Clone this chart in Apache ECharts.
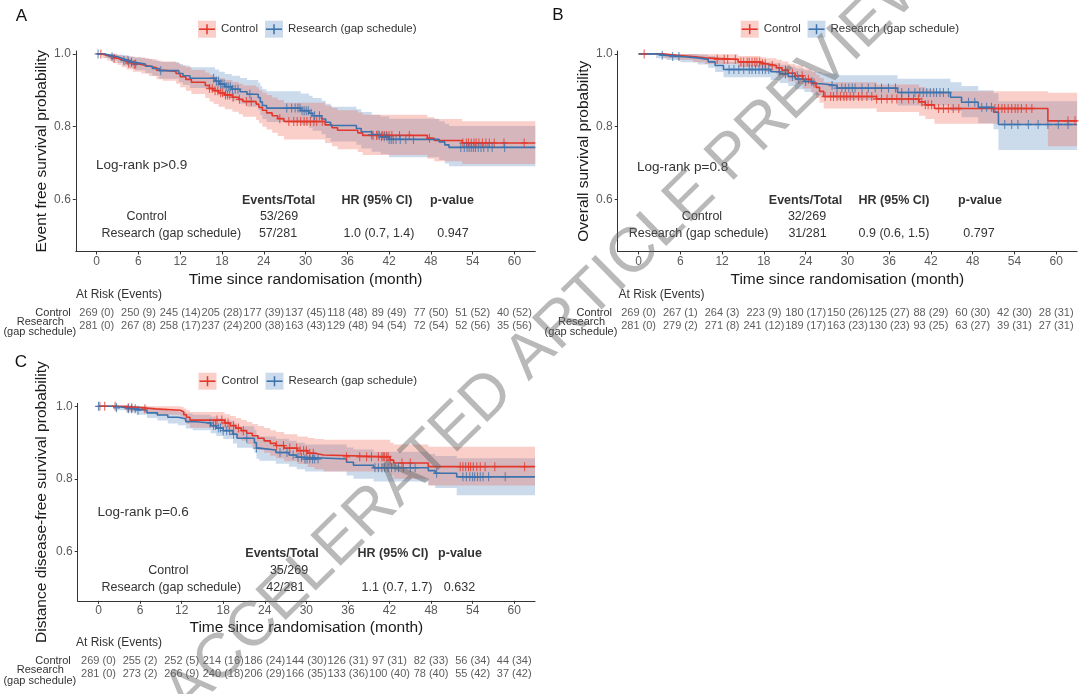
<!DOCTYPE html>
<html><head><meta charset="utf-8">
<script src="https://cdn.jsdelivr.net/npm/echarts@6/dist/echarts.min.js"></script>
<style>html,body{margin:0;padding:0;background:#fff}#c{width:1080px;height:694px}</style>
</head><body><div id="c"></div>
<script>
// ---------- tick labels ----------
const monthTicks = [0,6,12,18,24,30,36,42,48,54,60];
const probTicks = [0.6,0.8,1.0];

// ---------- Panel A: event free survival ----------
const efsCtrlT  = [0,0.8,1.5,2.3,3.0,3.6,4.3,5.2,6.4,7.5,8.6,9.5,11.4,12.0,12.8,13.6,15.6,16.2,16.8,17.5,18.4,19.5,20.4,21.0,22.9,23.3,23.8,24.4,25.2,26.0,26.9,32.8,33.8,34.6,37.5,38.2,47.5,48.5,52.5,63];
const efsCtrlS  = [1,.996,.992,.988,.984,.979,.975,.971,.967,.962,.955,.952,.946,.937,.930,.922,.913,.905,.899,.893,.887,.881,.875,.869,.862,.853,.845,.838,.830,.822,.814,.805,.797,.790,.783,.776,.768,.762,.755,.755];
const efsCtrlLo = [1,.989,.982,.975,.970,.963,.957,.951,.946,.939,.930,.926,.918,.908,.899,.890,.879,.869,.862,.855,.848,.841,.834,.827,.818,.809,.800,.792,.783,.774,.765,.755,.746,.738,.730,.722,.712,.705,.697,.697];
const efsCtrlHi = [1,1,1,.999,.997,.995,.993,.991,.989,.986,.981,.979,.975,.968,.963,.956,.949,.943,.938,.933,.928,.923,.918,.913,.908,.900,.893,.887,.880,.873,.866,.858,.851,.845,.839,.833,.826,.821,.815,.815];
const efsCtrlCens = [0.6,2.5,4.6,5.4,16.2,16.6,17.0,17.4,17.8,18.1,18.5,18.8,19.1,19.6,20.5,21.5,22.2,26.3,27.6,28.3,28.8,29.3,29.8,30.2,30.7,31.2,31.6,32.4,39.7,40.2,40.6,41.0,41.3,41.6,42.0,42.4,43.5,44.9,47.8,52.6,53.1,53.4,53.8,54.2,54.5,54.9,55.4,55.9,56.4,57.1,58.5,61.4];

const efsResT  = [0,1.2,2.0,3.0,3.8,4.6,5.5,7.0,8.0,9.0,11.8,12.4,13.4,17.0,17.6,18.4,19.4,20.6,21.6,23.2,23.5,23.8,24.4,29.3,30.5,31.0,32.3,32.9,33.6,37.3,38.0,39.5,40.8,42.0,49.2,50.0,50.6,63];
const efsResS  = [1,.996,.992,.987,.982,.977,.972,.966,.960,.954,.946,.940,.933,.925,.917,.910,.903,.896,.889,.880,.868,.858,.851,.844,.837,.830,.821,.812,.803,.795,.786,.778,.772,.765,.758,.750,.743,.743];
const efsResLo = [1,.989,.982,.975,.968,.961,.955,.947,.940,.932,.922,.915,.906,.896,.887,.879,.871,.863,.855,.845,.832,.821,.813,.805,.797,.789,.779,.769,.759,.750,.740,.731,.724,.716,.708,.699,.691,.691];
const efsResHi = [1,1,1,.998,.996,.993,.990,.986,.982,.978,.972,.968,.963,.957,.951,.945,.940,.934,.928,.921,.911,.903,.897,.891,.885,.879,.871,.863,.855,.848,.840,.833,.828,.822,.815,.808,.802,.802];
const efsResCens = [0.2,2.2,3.9,4.5,5.0,5.6,9.2,16.8,17.2,17.5,17.8,18.0,18.3,18.6,18.9,19.2,19.5,19.9,20.3,22.0,27.3,28.0,28.5,28.9,29.2,29.5,29.8,30.1,30.4,30.8,31.3,32.0,39.5,40.4,40.9,41.3,41.7,42.0,42.3,42.6,43.0,43.6,44.4,45.5,52.3,52.8,53.2,53.5,53.8,54.1,54.4,54.8,55.2,55.6,56.2,56.8,58.6];

const efsRiskCtrlN = [269,250,245,205,177,137,118,89,77,51,40];
const efsRiskCtrlE = [0,9,14,28,39,45,48,49,50,52,52];
const efsRiskResN  = [281,267,258,237,200,163,129,94,72,52,35];
const efsRiskResE  = [0,8,17,24,38,43,48,54,54,56,56];

// ---------- Panel B: overall survival ----------
const osCtrlT  = [0,3.5,5.5,7.8,9.5,14.3,17.5,18.3,19.8,20.6,21.5,22.5,23.6,24.8,25.5,26.0,26.6,34.2,40.3,41.2,42.5,58.8,63];
const osCtrlS  = [1,.996,.993,.989,.985,.978,.973,.968,.962,.955,.947,.940,.930,.920,.908,.897,.883,.876,.868,.860,.850,.816,.816];
const osCtrlLo = [1,.988,.983,.977,.972,.963,.956,.950,.943,.935,.925,.917,.905,.893,.879,.866,.850,.840,.830,.821,.808,.746,.746];
const osCtrlHi = [1,1,1,1,.999,.994,.991,.988,.984,.979,.973,.968,.960,.952,.943,.934,.922,.916,.909,.903,.897,.893,.893];
const osCtrlCens = [0.8,11.3,12.3,12.8,13.9,14.7,15.1,15.6,15.9,16.3,16.7,17.0,17.4,17.8,18.2,19.2,20.2,21.1,22.1,22.8,23.5,24.4,25.2,26.8,27.6,28.0,28.5,29.0,29.5,29.9,30.4,30.9,31.6,32.1,32.8,33.5,34.2,34.9,35.7,36.4,37.1,37.8,38.8,39.5,40.2,40.7,41.2,41.6,42.1,43.1,43.8,44.5,45.2,46.0,51.2,51.7,52.2,52.6,53.1,53.6,54.1,54.5,55.0,55.7,56.5,61.7,62.7];

const osResT  = [0,2.5,4.0,6.0,8.5,10.0,11.0,12.2,19.0,20.3,21.5,22.5,23.8,25.0,26.3,28.5,37.2,44.8,46.4,48.8,51.0,51.7,63];
const osResS  = [1,.996,.993,.989,.985,.978,.968,.957,.951,.945,.938,.931,.924,.918,.913,.906,.894,.881,.867,.853,.840,.806,.806];
const osResLo = [1,.988,.983,.977,.971,.962,.950,.936,.928,.920,.912,.903,.895,.887,.881,.873,.858,.843,.826,.809,.793,.736,.736];
const osResHi = [1,1,1,1,.998,.994,.987,.978,.974,.970,.965,.960,.955,.950,.946,.941,.932,.922,.912,.900,.892,.870,.870];
const osResCens = [3.4,4.9,5.8,13.0,13.7,14.4,15.1,15.9,16.3,16.8,17.3,17.8,18.2,18.7,20.2,21.1,22.1,23.0,24.0,24.9,27.8,28.5,29.2,29.7,30.2,30.7,31.1,32.1,33.0,34.0,34.9,35.9,36.9,37.8,38.8,39.7,40.4,40.9,41.4,41.9,42.4,42.8,43.3,43.8,44.5,47.4,48.3,49.3,50.0,50.7,52.6,53.6,54.5,56.0,57.4,58.8,60.3,61.7];

const osRiskCtrlN = [269,267,264,223,180,150,125,88,60,42,28];
const osRiskCtrlE = [0,1,3,9,17,26,27,29,30,30,31];
const osRiskResN  = [281,279,271,241,189,163,130,93,63,39,27];
const osRiskResE  = [0,2,8,12,17,23,23,25,27,31,31];

// ---------- Panel C: distance disease-free survival ----------
const ddfsCtrlT  = [0,4.0,6.5,8.2,11.8,12.3,12.7,13.2,18.2,19.0,19.8,20.6,21.4,22.2,23.0,23.9,24.8,25.6,26.8,28.7,30.2,31.2,32.5,42.1,42.6,47.6,63];
const ddfsCtrlS  = [1,.996,.993,.989,.985,.977,.970,.962,.954,.947,.940,.933,.926,.919,.912,.905,.898,.892,.885,.878,.871,.866,.861,.852,.844,.834,.834];
const ddfsCtrlLo = [1,.988,.983,.977,.971,.960,.951,.941,.931,.922,.913,.905,.896,.888,.880,.872,.864,.857,.849,.841,.833,.827,.821,.810,.801,.782,.782];
const ddfsCtrlHi = [1,1,1,1,.999,.994,.989,.984,.978,.973,.968,.962,.957,.951,.946,.940,.934,.929,.923,.917,.913,.910,.908,.900,.895,.889,.889];
const ddfsCtrlCens = [0.2,0.9,2.4,4.3,4.8,6.7,17.1,17.8,18.3,18.7,19.5,20.2,20.9,25.7,26.7,27.6,28.6,29.1,29.6,30.0,30.5,31.0,35.8,37.7,38.7,39.4,40.4,40.9,41.1,41.3,41.6,41.8,42.1,43.8,45.0,52.2,52.6,53.0,53.4,53.7,54.1,54.6,55.1,55.8,57.2,61.5];

const ddfsResT  = [0,2.5,4.0,5.5,7.0,8.5,10.0,11.5,12.6,13.6,16.2,17.0,18.0,19.4,20.0,22.5,22.8,23.2,25.6,27.5,28.6,29.8,35.8,36.8,39.7,47.6,48.6,51.7,63];
const ddfsResS  = [1,.996,.993,.989,.982,.976,.970,.966,.958,.954,.947,.940,.933,.923,.912,.900,.885,.880,.873,.866,.860,.855,.846,.838,.831,.823,.816,.806,.806];
const ddfsResLo = [1,.989,.983,.977,.968,.961,.953,.948,.939,.934,.926,.918,.910,.898,.886,.872,.856,.850,.842,.834,.827,.821,.810,.801,.793,.783,.775,.755,.755];
const ddfsResHi = [1,1,1,1,.996,.992,.988,.985,.980,.977,.972,.967,.961,.953,.945,.935,.922,.917,.911,.905,.900,.895,.887,.881,.875,.869,.863,.857,.857];
const ddfsResCens = [0.0,2.6,4.3,4.8,5.3,5.7,16.1,16.6,16.9,17.3,17.6,18.0,18.5,18.9,19.5,21.4,22.8,26.2,27.2,28.1,28.8,29.3,29.8,30.1,30.5,30.9,31.2,31.7,39.9,40.4,40.9,41.3,41.8,42.3,42.8,43.3,44.0,45.0,45.7,48.8,52.6,53.1,53.6,54.0,54.3,54.7,55.1,55.5,56.3,58.7];

const ddfsRiskCtrlN = [269,255,252,214,186,144,126,97,82,56,44];
const ddfsRiskCtrlE = [0,2,5,16,24,30,31,31,33,34,34];
const ddfsRiskResN  = [281,273,266,240,206,166,133,100,78,55,37];
const ddfsRiskResE  = [0,2,9,18,29,35,36,40,40,42,42];

// ---------- styling ----------
const FONT = "'Liberation Sans', Arial, Helvetica, sans-serif";
const RED = '#E3372B', BLUE = '#3C72AD';
const RED_FILL = 'rgba(238,95,75,0.30)', BLUE_FILL = 'rgba(62,122,186,0.27)';
const CTRL = 'Control', RES = 'Research (gap schedule)';

const panels = [
  { grid:{left:75.8, top:51, width:459.5, height:200.5}, ymin:0.4567, xGap:20, yGap:26,
    ytitle:'Event free survival probability',
    ctrl:{t:efsCtrlT,s:efsCtrlS,lo:efsCtrlLo,hi:efsCtrlHi,cens:efsCtrlCens},
    res:{t:efsResT,s:efsResS,lo:efsResLo,hi:efsResHi,cens:efsResCens},
    risk:{top:306, cn:efsRiskCtrlN, ce:efsRiskCtrlE, rn:efsRiskResN, re:efsRiskResE},
    legendL:[198,265], legendT:20.7 },
  { grid:{left:617.7, top:51, width:459.4, height:200.5}, ymin:0.4567, xGap:20, yGap:26,
    ytitle:'Overall survival probability',
    ctrl:{t:osCtrlT,s:osCtrlS,lo:osCtrlLo,hi:osCtrlHi,cens:osCtrlCens},
    res:{t:osResT,s:osResS,lo:osResLo,hi:osResHi,cens:osResCens},
    risk:{top:306, cn:osRiskCtrlN, ce:osRiskCtrlE, rn:osRiskResN, re:osRiskResE},
    legendL:[740.7,807.5], legendT:20.7 },
  { grid:{left:77.7, top:403.4, width:457.3, height:197.4}, ymin:0.465, xGap:19, yGap:28,
    ytitle:'Distance disease-free survival probability',
    ctrl:{t:ddfsCtrlT,s:ddfsCtrlS,lo:ddfsCtrlLo,hi:ddfsCtrlHi,cens:ddfsCtrlCens},
    res:{t:ddfsResT,s:ddfsResS,lo:ddfsResLo,hi:ddfsResHi,cens:ddfsResCens},
    risk:{top:654.4, cn:ddfsRiskCtrlN, ce:ddfsRiskCtrlE, rn:ddfsRiskResN, re:ddfsRiskResE},
    legendL:[198.5,265.5], legendT:372.7 }
];

function survAt(t, ts, ss){ let v = ss[0]; for (let i=0;i<ts.length;i++){ if (ts[i] <= t) v = ss[i]; } return v; }

const grids=[], xAxes=[], yAxes=[], series=[], legends=[], G=[];

function bandSeries(ax, d, fill){
  return { type:'custom', xAxisIndex:ax, yAxisIndex:ax, silent:true, z:1,
    data:[[d.t[0], d.s[0]]],
    renderItem:function(params, api){
      const up=[], dn=[];
      for (let i=0;i<d.t.length;i++){
        const t0=d.t[i], t1=(i+1<d.t.length)?d.t[i+1]:d.t[i];
        up.push(api.coord([t0,d.hi[i]]), api.coord([t1,d.hi[i]]));
        dn.push(api.coord([t0,d.lo[i]]), api.coord([t1,d.lo[i]]));
      }
      return { type:'polygon', shape:{points:up.concat(dn.reverse())}, style:{fill:fill} };
    } };
}
function lineSeries(ax, d, color, name){
  return { type:'line', name:name, xAxisIndex:ax, yAxisIndex:ax, step:'end', symbol:'none', silent:true, z:3,
    lineStyle:{color:color, width:1.6}, itemStyle:{color:color},
    data:d.t.map((t,i)=>[t,d.s[i]]) };
}
function censSeries(ax, d, color){
  return { type:'scatter', xAxisIndex:ax, yAxisIndex:ax, silent:true, z:4,
    symbol:'path://M5,0L5,10M0,5L10,5', symbolSize:[7,9],
    itemStyle:{color:'rgba(0,0,0,0)', borderColor:color, borderWidth:1.2},
    data:d.cens.map(t=>[t, survAt(t,d.t,d.s)]) };
}
function riskSeries(ax, cat, n, e){
  return { type:'scatter', xAxisIndex:ax, yAxisIndex:ax, silent:true, symbolSize:1,
    itemStyle:{color:'rgba(0,0,0,0)'},
    label:{show:true, position:'inside', fontSize:11, color:'#333', fontFamily:FONT},
    data:monthTicks.map((m,k)=>({value:[m,cat], label:{formatter: n[k]+' ('+e[k]+')'}})) };
}

panels.forEach((p,i)=>{
  grids.push(p.grid);
  xAxes.push({ gridIndex:i, type:'value', min:-3, max:63,
    name:'Time since randomisation (month)', nameLocation:'middle', nameGap:p.xGap,
    nameTextStyle:{fontSize:15.5, color:'#1a1a1a', fontFamily:FONT},
    axisLine:{show:true, onZero:false, lineStyle:{color:'#333', width:1}},
    axisTick:{show:true, length:3, customValues:monthTicks, lineStyle:{color:'#333'}},
    axisLabel:{customValues:monthTicks, margin:4, fontSize:12, color:'#5a5a5a', fontFamily:FONT},
    splitLine:{show:false} });
  yAxes.push({ gridIndex:i, type:'value', min:p.ymin, max:1.008,
    name:p.ytitle, nameLocation:'middle', nameGap:p.yGap,
    nameTextStyle:{fontSize:15.5, color:'#1a1a1a', fontFamily:FONT},
    axisLine:{show:true, onZero:false, lineStyle:{color:'#333', width:1}},
    axisTick:{show:true, length:3, customValues:probTicks, lineStyle:{color:'#333'}},
    axisLabel:{customValues:probTicks, formatter:v=>v.toFixed(1), margin:5, fontSize:12, color:'#5a5a5a', fontFamily:FONT},
    splitLine:{show:false} });

  series.push(bandSeries(i, p.res, BLUE_FILL));
  series.push(bandSeries(i, p.ctrl, RED_FILL));
  series.push(lineSeries(i, p.ctrl, RED, CTRL));
  series.push(lineSeries(i, p.res, BLUE, RES));
  series.push(censSeries(i, p.ctrl, RED));
  series.push(censSeries(i, p.res, BLUE));

  [[CTRL,RED_FILL,RED,0],[RES,BLUE_FILL,BLUE,1]].forEach(([nm,fill,col,k])=>{
    const L = p.legendL[k], T = p.legendT;
    legends.push({ left:L, top:T, padding:0, itemWidth:18, itemHeight:17, itemGap:0, selectedMode:false,
      textStyle:{fontSize:11.5, color:'#333', fontFamily:FONT},
      data:[{name:nm, icon:'rect', itemStyle:{color:fill, borderWidth:0}}] });
    G.push({type:'line', silent:true, z:50, shape:{x1:L+1, y1:T+8.5, x2:L+17, y2:T+8.5}, style:{stroke:col, lineWidth:1.6}});
    G.push({type:'line', silent:true, z:50, shape:{x1:L+9, y1:T+3.5, x2:L+9, y2:T+13.5}, style:{stroke:col, lineWidth:1.5}});
  });
});

panels.forEach((p,i)=>{
  const ax = 3+i;
  grids.push({left:p.grid.left, width:p.grid.width, top:p.risk.top, height:26.6});
  xAxes.push({gridIndex:ax, type:'value', min:-3, max:63, show:false});
  yAxes.push({gridIndex:ax, type:'category', data:[RES, CTRL], show:false});
  series.push(riskSeries(ax, CTRL, p.risk.cn, p.risk.ce));
  series.push(riskSeries(ax, RES, p.risk.rn, p.risk.re));
});

function T(x,y,text,o){
  o = o || {};
  const al = o.align || 'center';
  G.push({type:'text', x:x, y:y, silent:true, z:50,
    style:{text:text, fill:o.fill||'#333', fontSize:o.size||12.5, fontFamily:FONT, fontWeight:o.bold?'bold':'normal',
      textAlign:al, textVerticalAlign:'middle', align:al, verticalAlign:'middle'}});
}
// panel letters
T(21.5,16,'A',{size:17,fill:'#111'}); T(558,15.5,'B',{size:17,fill:'#111'}); T(21,362.5,'C',{size:17,fill:'#111'});
// log-rank
T(96,165.7,'Log-rank p>0.9',{size:13.5,align:'left'});
T(637,167,'Log-rank p=0.8',{size:13.5,align:'left'});
T(97.6,512.5,'Log-rank p=0.6',{size:13.5,align:'left'});
// tables A
T(278.6,201,'Events/Total',{bold:true}); T(377,201,'HR (95% CI)',{bold:true}); T(452,201,'p-value',{bold:true});
T(146.6,217,'Control'); T(279,217,'53/269');
T(171.3,234,'Research (gap schedule)'); T(278,234,'57/281'); T(379,234,'1.0 (0.7, 1.4)'); T(453,234,'0.947');
// tables B
T(805.5,201,'Events/Total',{bold:true}); T(894,201,'HR (95% CI)',{bold:true}); T(980,201,'p-value',{bold:true});
T(702,217,'Control'); T(807,217,'32/269');
T(698.5,234,'Research (gap schedule)'); T(807.5,234,'31/281'); T(894,234,'0.9 (0.6, 1.5)'); T(979,234,'0.797');
// tables C
T(282,554,'Events/Total',{bold:true}); T(393,554,'HR (95% CI)',{bold:true}); T(460,554,'p-value',{bold:true});
T(168.3,571,'Control'); T(289,571,'35/269');
T(171.3,588,'Research (gap schedule)'); T(285.3,588,'42/281'); T(397,588,'1.1 (0.7, 1.7)'); T(459.5,588,'0.632');
// at-risk headers and row labels
[[76,294.6,70.8,312.5,40.3],[618.5,294.6,612,312.5,581.5],[76,643,70.8,661,40.3]].forEach(([hx,hy,cx,cy,rx])=>{
  T(hx,hy,'At Risk (Events)',{size:12,align:'left'});
  T(cx,cy,'Control',{size:11,align:'right'});
  T(rx,cy+9,'Research',{size:11});
  T(rx-0.5,cy+19.5,'(gap schedule)',{size:11});
});
// watermark
G.push({type:'text', x:550, y:336, rotation:44.5*Math.PI/180, silent:true, z:100,
  style:{text:'ACCELERATED ARTICLE PREVIEW', fill:'rgba(100,100,100,0.45)', fontSize:63, fontFamily:FONT,
    textAlign:'center', textVerticalAlign:'middle', align:'center', verticalAlign:'middle'}});

const chart = echarts.init(document.getElementById('c'), null, {renderer:'canvas'});
chart.setOption({
  animation:false,
  backgroundColor:'#fff',
  textStyle:{fontFamily:FONT},
  grid:grids, xAxis:xAxes, yAxis:yAxes, legend:legends, series:series,
  graphic:{elements:G}
});
</script></body></html>
